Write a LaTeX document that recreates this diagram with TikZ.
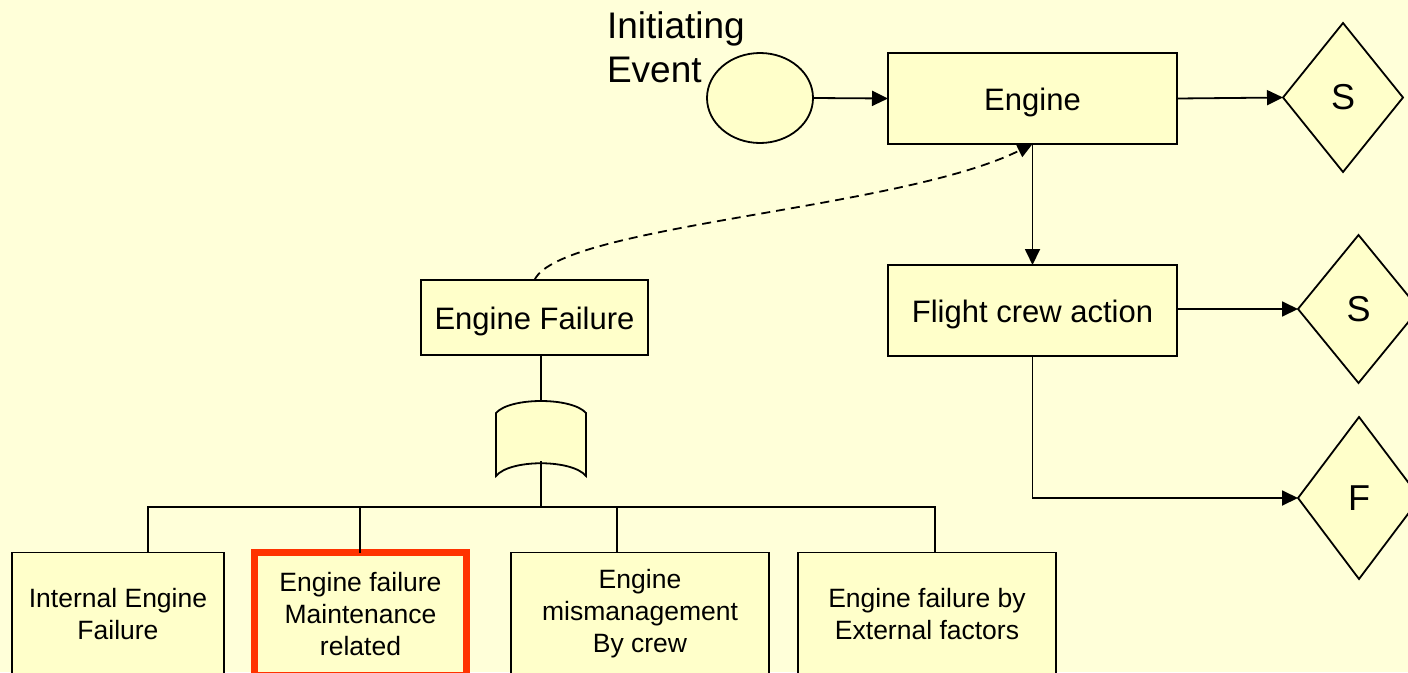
\documentclass[tikz,border=0pt]{standalone}
\usepackage{fontspec}
\setmainfont{Liberation Sans}
\usetikzlibrary{shapes.geometric,arrows.meta}
\definecolor{pagebg}{RGB}{255,255,217}
\definecolor{boxfill}{RGB}{255,255,202}
\definecolor{hilite}{RGB}{255,51,0}

\begin{document}
\begin{tikzpicture}[x=1pt,y=-1pt,
  every node/.style={inner sep=0pt, outer sep=0pt},
  blk/.style={draw=black, line width=1.8pt, fill=boxfill, rectangle,
    text height=24pt, text depth=0pt, font=\fontsize{31}{37}\selectfont},
  basic/.style={draw=black, line width=1.8pt, fill=boxfill, rectangle,
    align=center, minimum height=123pt, font=\fontsize{26.5}{32}\selectfont},
  endstate/.style={draw=black, line width=1.8pt, fill=boxfill, diamond,
    font=\fontsize{36}{43}\selectfont},
  link/.style={line width=1.8pt, draw=black},
  arr/.style={link, -{Triangle[length=16pt,width=15pt]}},
  dashedlink/.style={link, dash pattern=on 9pt off 6pt,
    -{Triangle[length=15pt,width=14pt]}},
]
\useasboundingbox (0,0) rectangle (1408,672);
\clip (0,0) rectangle (1408,672);
\fill[pagebg] (0,0) rectangle (1408,672);

% event tree
\node[anchor=west, align=left, font=\fontsize{37}{44}\selectfont]
  (ielabel) at (607,47) {Initiating\\Event};
\node[draw=black, line width=1.8pt, fill=boxfill, ellipse,
  minimum width=106pt, minimum height=90pt] (ie) at (760,98) {};
\node[blk, minimum width=289pt, minimum height=91pt] (eng) at (1032.5,98.5) {Engine};
\node[blk, minimum width=289pt, minimum height=91pt] (fca) at (1032.5,310.5) {Flight crew action};

\node[endstate, minimum width=120pt, minimum height=149pt] (s1) at (1343,97.5) {S};
\node[endstate, minimum width=121pt, minimum height=148pt] (s2) at (1358.5,309) {S};
\node[endstate, minimum width=122pt, minimum height=162pt] (f) at (1359,498) {F};

\draw[arr] (ie.east) -- (eng.west);
\draw[arr] (eng.east) -- (s1.west);
\draw[arr] (eng.south) -- (fca.north);
\draw[arr] (fca.east |- s2.west) -- (s2.west);
\draw[arr] (fca.south) |- (f.west);

% fault tree
\node[blk, minimum width=227pt, minimum height=75pt] (ef) at (534.5,317.5) {Engine Failure};

\coordinate (gtop) at (541,401);
\coordinate (gin) at (541,461);
\path[link, fill=boxfill] (496,413) .. controls (510,397) and (572,397) .. (586,413)
  -- (586,476) .. controls (572,459) and (510,459) .. (496,476) -- cycle;

\node[basic, minimum width=212pt] (b1) at (118,614) {Internal Engine\\Failure};
\node[basic, minimum width=212pt, draw=hilite, line width=7pt] (b2) at (360.5,614)
  {Engine failure\\Maintenance\\related};
\node[basic, minimum width=258pt] (b3) at (640,614) {Engine\\mismanagement\\By crew};
\node[basic, minimum width=258pt] (b4) at (927,614) {Engine failure by\\External factors};

\coordinate (j1) at (148,507);
\coordinate (j2) at (360,507);
\coordinate (j3) at (617,507);
\coordinate (j4) at (935,507);

\draw[link] (ef.south -| gtop) -- (gtop);
\draw[link] (gin) -- (gin |- j1);
\draw[link] (j1 |- b1.north) -- (j1) -- (j4) -- (j4 |- b4.north);
\draw[link] (j2) -- (j2 |- b2.north);
\draw[link] (j3) -- (j3 |- b3.north);

\draw[dashedlink] (ef.north) .. controls (560,225) and (900,210) .. (eng.south);
\end{tikzpicture}
\end{document}
